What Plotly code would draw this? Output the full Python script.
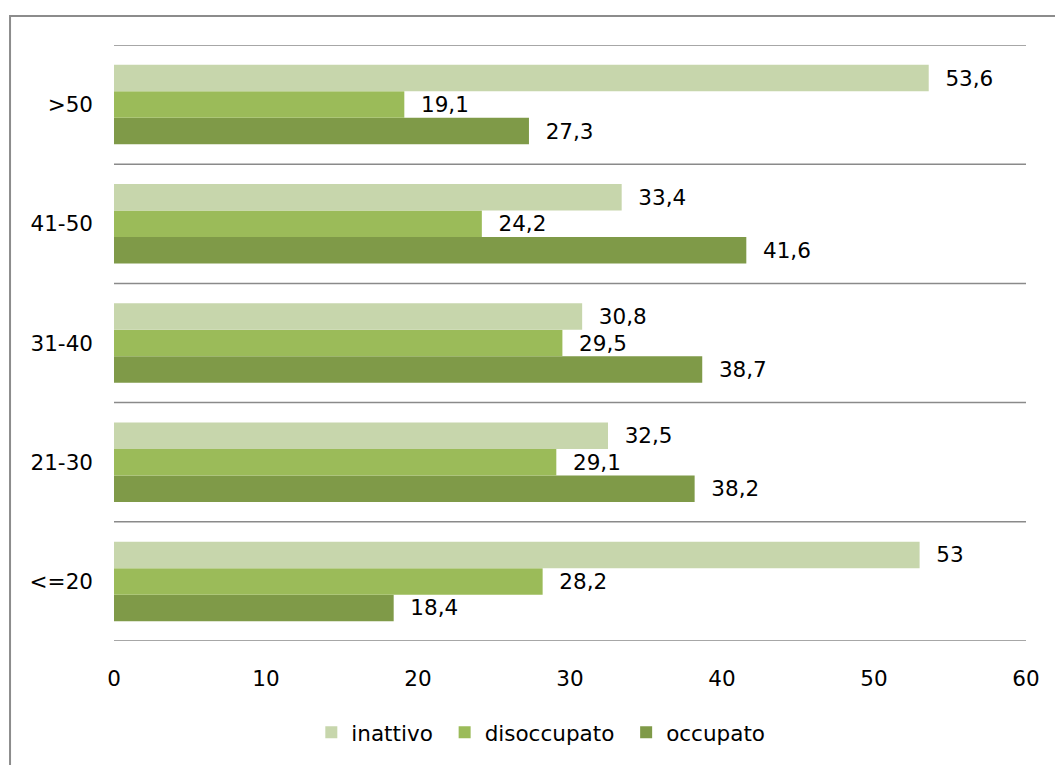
import plotly.graph_objects as go

# Age classes (bottom to top) and shares per employment status
categories = ["<=20", "21-30", "31-40", "41-50", ">50"]
inattivo = [53.0, 32.5, 30.8, 33.4, 53.6]
disoccupato = [28.2, 29.1, 29.5, 24.2, 19.1]
occupato = [18.4, 38.2, 38.7, 41.6, 27.3]
x_ticks = [0, 10, 20, 30, 40, 50, 60]

series = [
    ("occupato", occupato, "#7F9A48"),
    ("disoccupato\u00a0", disoccupato, "#9BBB59"),
    ("inattivo\u00a0", inattivo, "#C7D6AC"),
]

FONT = "DejaVu Sans, sans-serif"
FS = 21.5

fig = go.Figure()
for name, values, color in series:
    fig.add_trace(go.Bar(
        name=name,
        y=categories,
        x=values,
        orientation="h",
        marker=dict(color=color, line=dict(width=0)),
        texttemplate="\u00a0\u00a0%{x}",
        textposition="outside",
        textfont=dict(family=FONT, size=FS, color="#000000"),
        constraintext="none",
        cliponaxis=False,
    ))

shapes = []
# horizontal separators between age classes
for i in range(len(categories) + 1):
    shapes.append(dict(
        type="line", xref="paper", yref="y",
        x0=0, x1=1, y0=i - 0.5, y1=i - 0.5,
        line=dict(color="#8A8A8A", width=1.5),
    ))
# outer frame of the chart
shapes.append(dict(
    type="rect", xref="paper", yref="paper",
    x0=-0.114, x1=1.2, y0=-0.4, y1=1.0487,
    line=dict(color="#8C8C8C", width=2),
    fillcolor="rgba(0,0,0,0)", layer="below",
))

fig.update_layout(
    width=1055, height=765,
    margin=dict(l=114, r=29, t=45, b=124),
    paper_bgcolor="white", plot_bgcolor="white",
    barmode="group", bargap=0.333, bargroupgap=0,
    separators=",.",
    font=dict(family=FONT, size=FS, color="#000000"),
    shapes=shapes,
    showlegend=True,
    legend=dict(
        orientation="h", traceorder="reversed",
        x=0.468, xanchor="center", y=-0.153, yanchor="middle",
        font=dict(family=FONT, size=FS, color="#000000"),
        itemwidth=30,
    ),
    xaxis=dict(
        range=[0, 60], tickvals=x_ticks, showgrid=False, zeroline=False,
        showline=False, ticks="", ticklabelstandoff=22,
        tickfont=dict(family=FONT, size=FS),
    ),
    yaxis=dict(
        range=[-0.5, 4.5], showgrid=False, zeroline=False, showline=False,
        ticks="", ticklabelstandoff=20,
        tickfont=dict(family=FONT, size=FS),
    ),
)

fig.write_html("out.html")
